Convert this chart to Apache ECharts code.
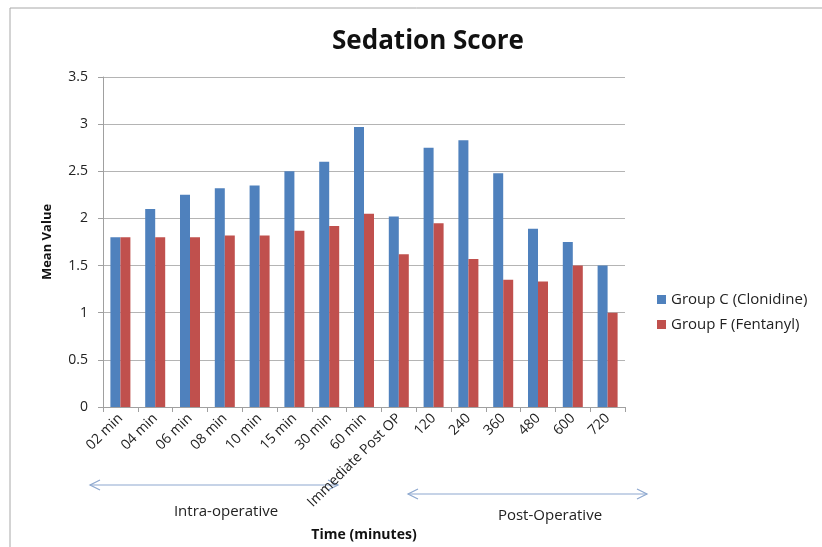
<!DOCTYPE html>
<html>
<head>
<meta charset="utf-8">
<script src="https://cdn.jsdelivr.net/npm/echarts@6/dist/echarts.min.js"></script>
<style>
html,body{margin:0;padding:0;background:#fff;}
#chart{width:822px;height:547px;}
</style>
</head>
<body>
<div id="chart"></div>
<script>
var categories = ['02 min','04 min','06 min','08 min','10 min','15 min','30 min','60 min','Immediate Post OP','120','240','360','480','600','720'];
var groupC = [1.8, 2.1, 2.25, 2.32, 2.35, 2.5, 2.6, 2.97, 2.02, 2.75, 2.83, 2.48, 1.89, 1.75, 1.5];
var groupF = [1.8, 1.8, 1.8, 1.82, 1.82, 1.87, 1.92, 2.05, 1.62, 1.95, 1.57, 1.35, 1.33, 1.5, 1.0];
var yTicks = [0, 0.5, 1, 1.5, 2, 2.5, 3, 3.5];
var seriesNames = ['Group C (Clonidine)', 'Group F (Fentanyl)'];

var FONT = '"Open Sans", "Noto Sans", sans-serif';
var chart = echarts.init(document.getElementById('chart'));
var arrowColor = '#8da8cf';

function arrow(x1, x2, y) {
  return [
    {type:'line', shape:{x1:x1, y1:y, x2:x2, y2:y}, style:{stroke:arrowColor, lineWidth:1.2}},
    {type:'polyline', shape:{points:[[x1+10,y-5],[x1,y],[x1+10,y+5]]}, style:{stroke:arrowColor, lineWidth:1.2, fill:null}},
    {type:'polyline', shape:{points:[[x2-10,y-5],[x2,y],[x2-10,y+5]]}, style:{stroke:arrowColor, lineWidth:1.2, fill:null}}
  ];
}

var option = {
  backgroundColor: '#fff',
  animation: false,
  title: {
    text: 'Sedation Score',
    left: 423,
    top: 24,
    textAlign: 'center',
    textStyle: {fontFamily: FONT, fontSize: 26, fontWeight: 'bold', color: '#111'}
  },
  legend: {
    orient: 'vertical',
    left: 652,
    top: 287,
    itemWidth: 9,
    itemHeight: 9,
    itemGap: 10,
    icon: 'rect',
    textStyle: {fontFamily: FONT, fontSize: 15, color: '#222'},
    data: seriesNames
  },
  grid: {left: 103, right: 197, top: 77, bottom: 131, containLabel: false},
  xAxis: {
    type: 'category',
    data: categories,
    name: 'Time (minutes)',
    nameLocation: 'middle',
    nameGap: 121,
    nameTextStyle: {fontFamily: FONT, fontSize: 14, fontWeight: 'bold', color: '#111'},
    axisLine: {lineStyle: {color: '#a0a0a0'}},
    axisTick: {show: true, length: 5, lineStyle: {color: '#a0a0a0'}},
    axisLabel: {rotate: 45, fontFamily: FONT, fontSize: 14, color: '#222', margin: 9, interval: 0}
  },
  yAxis: {
    type: 'value',
    min: yTicks[0],
    max: yTicks[yTicks.length - 1],
    interval: 0.5,
    name: 'Mean Value',
    nameLocation: 'middle',
    nameGap: 49,
    nameTextStyle: {fontFamily: FONT, fontSize: 13, fontWeight: 'bold', color: '#111'},
    axisLine: {show: true, lineStyle: {color: '#a0a0a0'}},
    axisTick: {show: true, length: 5, lineStyle: {color: '#a0a0a0'}},
    axisLabel: {fontFamily: FONT, fontSize: 14, color: '#222', margin: 15},
    splitLine: {lineStyle: {color: '#b4b4b4'}}
  },
  series: [
    {name: seriesNames[0], type: 'bar', data: groupC, barWidth: 10, barGap: '0%', itemStyle: {color: '#4f81bd'}},
    {name: seriesNames[1], type: 'bar', data: groupF, barWidth: 10, barGap: '0%', itemStyle: {color: '#c0504d'}}
  ],
  graphic: [
    {type:'polyline', shape:{points:[[10,560],[10,8],[830,8]]}, style:{stroke:'#a8a8a8', lineWidth:1, fill:null}, silent:true}
  ].concat(arrow(90, 338, 485)).concat(arrow(408, 647, 494)).concat([
    {type:'text', x:226, y:512, style:{text:'Intra-operative', font:'15px ' + FONT, fill:'#222', align:'center', verticalAlign:'middle'}},
    {type:'text', x:550, y:516, style:{text:'Post-Operative', font:'15px ' + FONT, fill:'#222', align:'center', verticalAlign:'middle'}}
  ])
};
chart.setOption(option);
</script>
</body>
</html>
